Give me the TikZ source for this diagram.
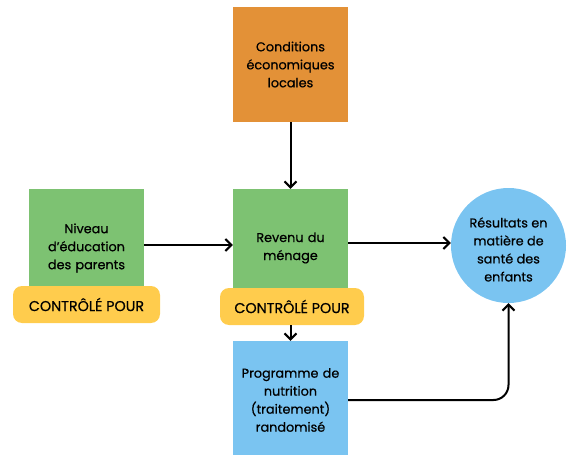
\documentclass[tikz,border=0pt]{standalone}
\usepackage{fontspec}
\setmainfont{Poppins}[FakeBold=0.6]
\newfontfamily\labelfont{Poppins}[FakeBold=0.6]
\usetikzlibrary{arrows.meta}
\definecolor{boxorange}{RGB}{227,145,55}
\definecolor{boxgreen}{RGB}{125,194,114}
\definecolor{boxblue}{RGB}{122,196,241}
\definecolor{pillyellow}{RGB}{255,204,77}
\tikzset{
  txt/.style={align=center, font=\labelfont\fontsize{12.8}{18}\selectfont},
  sq/.style={txt, minimum width=115pt, minimum height=115pt, inner sep=0pt, text width=110pt},
  pill/.style={fill=pillyellow, rounded corners=9pt, inner sep=0pt,
    font=\labelfont\fontsize{14.3}{16}\selectfont},
  link/.style={line width=2pt, -{Straight Barb[length=6pt,width=12pt,line width=2pt]}}
}
\begin{document}
\begin{tikzpicture}[x=1pt,y=-1pt]
\useasboundingbox (0,0) rectangle (574,455);
\node[sq, fill=boxorange] (cond) at (290.5,64.5) {Conditions\\économiques\\locales};
\node[sq, fill=boxgreen, minimum height=118pt] (rev) at (290.5,248) {Revenu du\\ménage};
\node[sq, fill=boxgreen, minimum height=118pt] (niv) at (86.5,248) {Niveau\\d’éducation\\des parents};
\node[sq, fill=boxblue, minimum height=118pt] (prog) at (290.5,400) {Programme de\\nutrition\\(traitement)\\randomisé};
\node[circle, fill=boxblue, minimum size=115pt, inner sep=0pt,
  label={[txt, yshift=-4pt]center:Résultats en\\matière de\\santé des\\enfants}] (res) at (508.5,245.5) {};
% "controlled for" tags laid over the lower edges of the green boxes
\node[pill, minimum width=147pt, minimum height=37pt] (pl) at (86.5,304.5) {CONTRÔLÉ POUR};
\node[pill, minimum width=144pt, minimum height=37pt] (pm) at (292,306.5) {CONTRÔLÉ POUR};
% causal links
\draw[link] (cond.south) -- (rev.north);
\draw[link] (niv.east |- 0,245) -- (rev.west |- 0,245);
\draw[link] (rev.east |- 0,243) -- (res.west |- 0,243);
\draw[link] (pm.south -| rev.south) -- (prog.north);
\draw[link, rounded corners=15pt] (prog.east |- 0,400) -| (res.south);
\end{tikzpicture}
\end{document}
